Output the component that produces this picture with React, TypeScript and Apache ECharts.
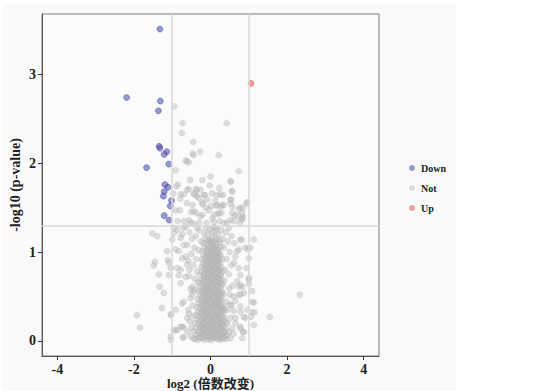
import React, { useEffect, useRef } from "react";
import * as echarts from "echarts";

const xTicks = [-4, -2, 0, 2, 4];
const yTicks = [0, 1, 2, 3];
const seriesNames = ["Down", "Not", "Up"];
const foldLines = [-1, 1];
const pLine = 1.301;

const downPoints = [
  [-1.32, 3.51], [-2.19, 2.74], [-1.31, 2.7], [-1.36, 2.59], [-1.34, 2.19], [-1.32, 2.17],
  [-1.14, 2.13], [-1.21, 2.1], [-1.09, 1.99], [-1.67, 1.95], [-1.19, 1.76], [-1.11, 1.73],
  [-1.21, 1.68], [-1.23, 1.63], [-1.02, 1.58], [-1.05, 1.52], [-1.21, 1.41], [-1.08, 1.36],
];

const upPoints = [[1.06, 2.9]];

const notUpper = [
  [-0.95, 2.64], [-0.73, 2.45], [0.42, 2.45], [-0.75, 2.34], [-0.45, 2.24], [-0.47, 2.11], [-0.44, 2.09],
  [-0.27, 2.13], [0.21, 2.09], [-0.65, 2.03], [-0.57, 2.01], [-0.91, 1.92], [0.74, 1.91], [-0.53, 1.81],
  [-0.21, 1.81], [0.53, 1.79], [-0.85, 1.76], [-0.89, 1.74], [-0.57, 1.71], [-0.38, 1.71], [0.23, 1.72],
  [0.57, 1.68], [-0.17, 1.64], [0.17, 1.64], [0.33, 1.64], [0.54, 1.59], [0.96, 1.56], [0.17, 1.53],
  [0.28, 1.51], [0.78, 1.5], [0.85, 1.5], [-0.21, 1.54], [-0.61, 2.02], [-0.36, 1.7], [-0.7, 1.65],
  [-0.42, 1.65], [-0.15, 1.64], [0.26, 1.65], [0.56, 1.69], [-0.97, 1.66], [-0.79, 1.6], [-0.31, 1.61],
  [-0.22, 1.56], [0.52, 1.59], [0.94, 1.55], [-0.62, 1.55], [-0.47, 1.53], [0.16, 1.52], [0.3, 1.53],
  [0.57, 1.51], [-0.91, 1.47], [-0.8, 1.47], [-0.51, 1.45], [-0.37, 1.44], [-0.21, 1.42], [0.19, 1.43],
  [0.28, 1.44], [0.7, 1.41], [0.84, 1.4], [-0.86, 1.35], [-0.7, 1.35], [-0.56, 1.36], [-0.44, 1.32],
  [-0.3, 1.33], [-0.1, 1.33], [0.09, 1.34], [0.24, 1.35], [0.35, 1.33], [0.61, 1.35], [0.77, 1.33],
  [0.83, 1.37], [-0.78, 1.65], [-0.61, 1.7], [-0.44, 1.66], [-0.35, 1.63], [-0.26, 1.7], [-0.09, 1.59],
  [0.04, 1.66], [0.35, 1.53], [0.22, 1.44], [0.09, 1.42], [0.52, 1.55], [0.57, 1.44], [0.52, 1.36],
  [0.43, 1.33], [-0.26, 1.4], [-0.44, 1.46], [-0.52, 1.33], [0.52, 1.8], [0.74, 1.48], [0.83, 1.44],
  [0.81, 1.37], [0.63, 1.41], [0.02, 1.52], [-0.05, 1.47], [0.05, 1.38], [-0.02, 1.75], [0.12, 1.58],
  [-0.12, 1.5], [0.0, 1.85], [-0.96, 1.27], [-0.7, 1.27], [-0.35, 1.27], [0.13, 1.27], [0.48, 1.27],
];

const notMiddle = [
  [-1.52, 1.21], [-1.39, 1.18], [-1.45, 0.89], [-1.48, 0.85], [-1.33, 0.61], [-1.22, 0.54], [-1.27, 0.37],
  [-1.92, 0.29], [-1.84, 0.15], [-1.04, 0.3], [-1.13, 1.01], [-1.11, 0.91], [-1.09, 0.88], [-0.78, 0.8],
  [-0.83, 0.74], [-1.04, 0.05], [-1.04, 0.01], [-0.72, 0.04], [-0.91, 0.12], [-0.78, 0.16], [-0.7, 0.15],
  [-0.74, 0.42], [-0.57, 0.73], [-0.52, 0.58], [-0.96, 1.21], [-0.87, 1.25], [-0.74, 1.2], [-0.65, 1.29],
  [-0.91, 1.03], [-0.83, 1.01], [-0.7, 1.08], [-0.65, 0.95], [-0.61, 0.86], [-1.35, 0.75], [-1.09, 0.74],
  [-1.04, 0.82], [-1.0, 1.14], [-0.78, 1.16], [-0.61, 1.08], [-0.74, 0.93], [-0.87, 0.82], [-0.65, 0.72],
  [-0.78, 0.65], [-1.03, 0.29], [-0.91, 0.35], [-0.96, 0.12], [-0.87, 0.12], [-0.74, 0.16], [-0.71, 0.04],
  [-0.7, 0.44], [-0.61, 0.26], [-0.54, 0.22], [-0.57, 0.31], [-0.52, 0.48], [-0.48, 0.52], [-0.45, 0.56],
  [-0.52, 0.05], [-0.44, 0.03], [-0.48, 0.61], [-0.39, 0.58],
  [0.78, 1.14], [0.91, 1.05], [1.04, 1.05], [1.13, 1.14], [1.0, 0.93], [0.94, 0.82], [0.78, 0.74],
  [0.7, 0.67], [0.83, 0.61], [1.0, 0.71], [0.81, 1.14], [0.97, 1.03], [1.0, 0.69], [1.0, 0.64],
  [0.78, 0.52], [2.33, 0.52], [1.13, 0.43], [0.96, 0.35], [1.09, 0.32], [1.15, 0.32], [1.55, 0.27],
  [1.06, 0.27], [1.13, 0.18], [0.78, 0.16], [0.85, 0.1], [0.78, 0.33], [0.74, 1.03], [0.7, 1.01],
  [0.65, 0.95], [0.61, 0.88], [0.74, 0.82], [0.74, 0.61], [0.87, 0.54], [0.87, 0.27], [0.65, 0.2],
  [0.83, 0.03], [0.48, 0.59], [0.5, 0.52], [0.42, 0.44], [0.52, 0.41], [0.45, 0.35], [0.61, 0.34],
  [0.52, 0.26], [0.65, 0.26], [0.57, 0.14], [0.48, 0.1], [0.43, 0.07], [0.52, 0.03], [0.35, 0.03],
  [0.78, 0.63], [0.74, 0.52], [0.78, 0.39], [0.91, 0.26], [0.78, 0.14], [0.87, 0.1], [1.1, 0.44],
  [1.09, 0.56],
  [-0.55, 1.22], [-0.48, 1.15], [-0.42, 1.05], [-0.5, 0.98], [-0.38, 0.92], [-0.45, 0.85], [-0.35, 0.78],
  [-0.42, 0.7], [-0.33, 0.66], [-0.38, 1.18], [-0.3, 1.25], [-0.25, 1.12], [-0.31, 1.02], [-0.58, 0.9],
  [-0.55, 0.8], [-0.47, 0.4], [-0.58, 0.35], [-0.5, 0.15], [-0.6, 0.1], [-0.46, 0.28],
  [0.4, 1.22], [0.45, 1.12], [0.35, 1.05], [0.5, 1.0], [0.42, 0.92], [0.55, 0.85], [0.38, 0.8],
  [0.48, 0.75], [0.36, 0.68], [0.58, 0.62], [0.32, 1.15], [0.28, 1.25], [0.55, 1.18], [0.62, 1.1],
  [0.6, 0.5], [0.55, 0.4], [0.65, 0.45], [0.45, 0.2], [0.6, 0.08], [0.4, 0.14],
];

const notCore = [
  [-0.41, 0.02], [-0.33, 0.01], [-0.24, 0.03], [-0.16, 0.01], [-0.07, 0.02], [0.02, 0.01], [0.1, 0.03], [0.18, 0.02], [0.26, 0.01], [0.34, 0.03], [0.42, 0.02],
  [-0.37, 0.07], [-0.28, 0.05], [-0.19, 0.06], [-0.11, 0.08], [-0.02, 0.05], [0.06, 0.07], [0.14, 0.06], [0.23, 0.05], [0.31, 0.08], [0.39, 0.06],
  [-0.43, 0.11], [-0.32, 0.1], [-0.23, 0.12], [-0.14, 0.1], [-0.05, 0.11], [0.04, 0.12], [0.12, 0.1], [0.21, 0.11], [0.29, 0.13], [0.37, 0.1],
  [-0.38, 0.15], [-0.27, 0.16], [-0.18, 0.14], [-0.09, 0.16], [0.0, 0.15], [0.08, 0.14], [0.17, 0.16], [0.25, 0.15], [0.34, 0.17],
  [-0.41, 0.2], [-0.31, 0.19], [-0.22, 0.18], [-0.13, 0.2], [-0.04, 0.19], [0.05, 0.21], [0.13, 0.18], [0.22, 0.2], [0.3, 0.19], [0.4, 0.21],
  [-0.35, 0.24], [-0.26, 0.23], [-0.16, 0.25], [-0.07, 0.24], [0.02, 0.23], [0.11, 0.25], [0.19, 0.24], [0.28, 0.22], [0.37, 0.25],
  [-0.38, 0.29], [-0.29, 0.28], [-0.2, 0.27], [-0.11, 0.29], [-0.02, 0.28], [0.07, 0.27], [0.15, 0.29], [0.24, 0.28], [0.33, 0.3],
  [-0.33, 0.33], [-0.24, 0.32], [-0.15, 0.34], [-0.06, 0.33], [0.03, 0.31], [0.12, 0.34], [0.2, 0.32], [0.29, 0.33], [0.38, 0.35],
  [-0.36, 0.38], [-0.27, 0.37], [-0.18, 0.36], [-0.09, 0.38], [0.0, 0.37], [0.09, 0.39], [0.17, 0.36], [0.26, 0.38], [0.34, 0.37],
  [-0.31, 0.42], [-0.22, 0.41], [-0.13, 0.43], [-0.04, 0.42], [0.05, 0.41], [0.14, 0.43], [0.23, 0.42], [0.31, 0.4],
  [-0.34, 0.47], [-0.25, 0.46], [-0.16, 0.45], [-0.07, 0.47], [0.02, 0.46], [0.11, 0.45], [0.19, 0.47], [0.28, 0.46],
  [-0.28, 0.51], [-0.19, 0.5], [-0.1, 0.52], [-0.01, 0.51], [0.08, 0.5], [0.17, 0.52], [0.25, 0.51], [0.34, 0.53],
  [-0.31, 0.56], [-0.22, 0.55], [-0.13, 0.54], [-0.04, 0.56], [0.05, 0.55], [0.14, 0.54], [0.22, 0.56], [0.3, 0.55],
  [-0.26, 0.6], [-0.17, 0.59], [-0.08, 0.61], [0.01, 0.6], [0.1, 0.59], [0.19, 0.61], [0.27, 0.6],
  [-0.29, 0.65], [-0.2, 0.64], [-0.11, 0.63], [-0.02, 0.65], [0.07, 0.64], [0.16, 0.63], [0.24, 0.65], [0.32, 0.64],
  [-0.24, 0.69], [-0.15, 0.68], [-0.06, 0.7], [0.03, 0.69], [0.12, 0.68], [0.21, 0.7], [0.29, 0.69],
  [-0.27, 0.74], [-0.18, 0.73], [-0.09, 0.72], [0.0, 0.74], [0.09, 0.73], [0.18, 0.72], [0.26, 0.74],
  [-0.22, 0.78], [-0.13, 0.77], [-0.04, 0.79], [0.05, 0.78], [0.14, 0.77], [0.23, 0.79], [0.31, 0.78],
  [-0.25, 0.83], [-0.16, 0.82], [-0.07, 0.81], [0.02, 0.83], [0.11, 0.82], [0.2, 0.81], [0.28, 0.83],
  [-0.2, 0.87], [-0.11, 0.86], [-0.02, 0.88], [0.07, 0.87], [0.16, 0.86], [0.25, 0.88],
  [-0.23, 0.92], [-0.14, 0.91], [-0.05, 0.9], [0.04, 0.92], [0.13, 0.91], [0.22, 0.9], [0.3, 0.92],
  [-0.18, 0.96], [-0.09, 0.95], [0.0, 0.97], [0.09, 0.96], [0.18, 0.95], [0.26, 0.97],
  [-0.21, 1.01], [-0.12, 1.0], [-0.03, 0.99], [0.06, 1.01], [0.15, 1.0], [0.23, 0.99],
  [-0.16, 1.05], [-0.07, 1.04], [0.02, 1.06], [0.11, 1.05], [0.2, 1.04], [0.28, 1.06],
  [-0.19, 1.1], [-0.1, 1.09], [-0.01, 1.11], [0.08, 1.1], [0.17, 1.09], [0.25, 1.11],
  [-0.14, 1.15], [-0.04, 1.14], [0.05, 1.16], [0.14, 1.15], [0.22, 1.14],
  [-0.17, 1.21], [-0.07, 1.2], [0.03, 1.22], [0.12, 1.21], [0.2, 1.2],
  [-0.12, 1.27], [-0.02, 1.26], [0.08, 1.28], [0.17, 1.27],
];

const notCoreDense = [
  [-0.29, 0.04], [-0.2, 0.04], [-0.11, 0.05], [-0.03, 0.03], [0.06, 0.04], [0.15, 0.05], [0.22, 0.03], [0.3, 0.04],
  [-0.24, 0.09], [-0.15, 0.08], [-0.06, 0.09], [0.02, 0.08], [0.1, 0.09], [0.19, 0.08], [0.27, 0.09],
  [-0.28, 0.13], [-0.19, 0.13], [-0.1, 0.12], [-0.01, 0.14], [0.08, 0.12], [0.16, 0.13], [0.25, 0.13], [0.33, 0.12],
  [-0.23, 0.17], [-0.14, 0.18], [-0.05, 0.17], [0.04, 0.18], [0.12, 0.17], [0.21, 0.18], [0.29, 0.17],
  [-0.27, 0.22], [-0.18, 0.21], [-0.09, 0.22], [0.0, 0.21], [0.09, 0.22], [0.17, 0.23], [0.26, 0.21], [0.34, 0.22],
  [-0.21, 0.26], [-0.12, 0.27], [-0.03, 0.26], [0.06, 0.26], [0.14, 0.27], [0.23, 0.26], [0.31, 0.27],
  [-0.25, 0.31], [-0.16, 0.3], [-0.07, 0.31], [0.02, 0.3], [0.1, 0.31], [0.19, 0.3], [0.27, 0.31],
  [-0.2, 0.35], [-0.11, 0.36], [-0.02, 0.35], [0.07, 0.36], [0.15, 0.35], [0.24, 0.36], [0.31, 0.35],
  [-0.23, 0.4], [-0.14, 0.4], [-0.05, 0.39], [0.04, 0.4], [0.12, 0.41], [0.21, 0.4], [0.28, 0.39],
  [-0.18, 0.44], [-0.09, 0.45], [0.0, 0.44], [0.09, 0.45], [0.17, 0.44], [0.25, 0.45],
  [-0.22, 0.49], [-0.13, 0.48], [-0.04, 0.49], [0.05, 0.48], [0.13, 0.49], [0.22, 0.48], [0.29, 0.49],
  [-0.17, 0.53], [-0.08, 0.54], [0.01, 0.53], [0.1, 0.54], [0.18, 0.53], [0.26, 0.54],
  [-0.2, 0.58], [-0.11, 0.57], [-0.02, 0.58], [0.07, 0.57], [0.15, 0.58], [0.23, 0.57],
  [-0.15, 0.62], [-0.06, 0.63], [0.03, 0.62], [0.12, 0.63], [0.2, 0.62], [0.28, 0.63],
  [-0.18, 0.67], [-0.09, 0.66], [0.0, 0.67], [0.09, 0.66], [0.17, 0.67], [0.25, 0.66],
  [-0.13, 0.71], [-0.04, 0.72], [0.05, 0.71], [0.14, 0.72], [0.22, 0.71],
  [-0.16, 0.76], [-0.07, 0.75], [0.02, 0.76], [0.11, 0.75], [0.19, 0.76], [0.27, 0.75],
  [-0.11, 0.8], [-0.02, 0.81], [0.07, 0.8], [0.16, 0.81], [0.24, 0.8],
  [-0.14, 0.85], [-0.05, 0.84], [0.04, 0.85], [0.13, 0.84], [0.21, 0.85],
  [-0.09, 0.89], [0.0, 0.9], [0.09, 0.89], [0.18, 0.9],
  [-0.12, 0.94], [-0.03, 0.93], [0.06, 0.94], [0.15, 0.93], [0.23, 0.94],
  [-0.07, 0.98], [0.02, 0.99], [0.11, 0.98], [0.19, 0.99],
  [-0.08, 1.03], [0.01, 1.02], [0.1, 1.03], [0.18, 1.02],
  [-0.05, 1.07], [0.06, 1.08], [0.14, 1.07],
  [-0.06, 1.12], [0.03, 1.13], [0.12, 1.12],
];

const notPoints = [...notCore, ...notCoreDense, ...notMiddle, ...notUpper];

const FONT = "'Liberation Serif', 'Noto Sans CJK SC', serif";

export default function App() {
  const ref = useRef<HTMLDivElement>(null);
  useEffect(() => {
    if (!ref.current) return;
    const chart = echarts.init(ref.current, undefined, { renderer: "svg" });
    const tickLabel = { fontFamily: FONT, fontWeight: "bold", fontSize: 14, color: "#222" };
    chart.setOption({
      animation: false,
      backgroundColor: "#ffffff",
      graphic: [
        { type: "rect", left: 2, top: 4, shape: { width: 454, height: 390 }, style: { fill: "#fafafa" }, z: -10, silent: true },
      ],
      grid: {
        left: 42, top: 14, width: 337, height: 342,
        outerBoundsMode: "none",
        containLabel: false,
        show: true, borderColor: "#7a7a7a", borderWidth: 1, backgroundColor: "#fbfbfb",
      },
      legend: {
        orient: "vertical",
        left: 404,
        top: 157,
        itemWidth: 6,
        itemHeight: 6,
        itemGap: 8,
        icon: "circle",
        data: seriesNames,
        itemStyle: { borderWidth: 0 },
        textStyle: { fontFamily: FONT, fontWeight: "bold", fontSize: 10, color: "#222", lineHeight: 12, padding: [0, 0, 0, 1] },
      },
      xAxis: {
        type: "value",
        min: -4.4,
        max: 4.4,
        name: "log2 (倍数改变)",
        nameLocation: "middle",
        nameGap: 20,
        nameMoveOverlap: false,
        nameTextStyle: { fontFamily: FONT, fontWeight: "bold", fontSize: 13, color: "#222", lineHeight: 14 },
        axisLine: { show: true, onZero: false, lineStyle: { color: "#555", width: 1 } },
        axisTick: { show: true, length: 4, customValues: xTicks, lineStyle: { color: "#333" } },
        axisLabel: { ...tickLabel, margin: 6, customValues: xTicks },
        splitLine: { show: false },
      },
      yAxis: {
        type: "value",
        min: -0.17,
        max: 3.68,
        name: "-log10 (p-value)",
        nameLocation: "middle",
        nameGap: 20,
        nameMoveOverlap: false,
        nameTextStyle: { fontFamily: FONT, fontWeight: "bold", fontSize: 14, color: "#222" },
        axisLine: { show: true, onZero: false, lineStyle: { color: "#555", width: 1 } },
        axisTick: { show: true, length: 4, customValues: yTicks, lineStyle: { color: "#333" } },
        axisLabel: { ...tickLabel, margin: 6, customValues: yTicks },
        splitLine: { show: false },
      },
      series: [
        {
          type: "line",
          data: [],
          silent: true,
          z: 1,
          markLine: {
            silent: true,
            symbol: ["none", "none"],
            label: { show: false },
            lineStyle: { type: "solid", color: "#d8d8d8", width: 1.5 },
            data: [...foldLines.map((v) => ({ xAxis: v })), { yAxis: pLine }],
          },
        },
        {
          name: "Down",
          type: "scatter",
          z: 3,
          symbolSize: 6,
          data: downPoints,
          itemStyle: { color: "rgba(80,80,180,0.72)", borderColor: "rgba(55,55,150,0.75)", borderWidth: 0.7 },
        },
        {
          name: "Not",
          type: "scatter",
          z: 2,
          symbolSize: 6,
          data: notPoints,
          itemStyle: { color: "rgba(185,185,185,0.58)", borderColor: "rgba(165,165,165,0.45)", borderWidth: 0.6 },
        },
        {
          name: "Up",
          type: "scatter",
          z: 3,
          symbolSize: 6,
          data: upPoints,
          itemStyle: { color: "rgba(235,85,85,0.72)", borderColor: "rgba(210,70,70,0.75)", borderWidth: 0.7 },
        },
      ],
    });
    return () => chart.dispose();
  }, []);
  return <div ref={ref} style={{ position: "fixed", left: 0, top: 0, width: 548, height: 391 }} />;
}
